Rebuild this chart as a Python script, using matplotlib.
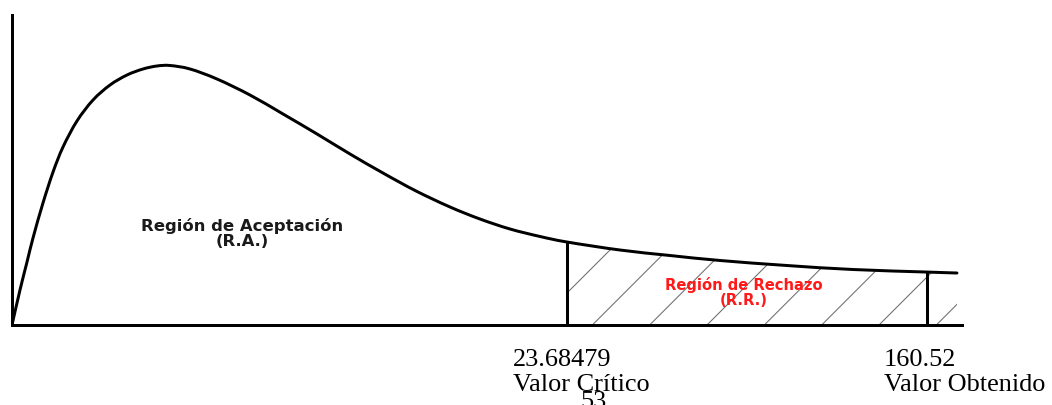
import matplotlib
matplotlib.use('Agg')

import numpy as np
import matplotlib.pyplot as plt
from matplotlib.path import Path
from matplotlib.patches import PathPatch

# Curva de la distribucion (escala 0-100 en ambos ejes)
curva_x = [0.0, 0.84, 1.58, 2.21, 3.26, 4.32, 5.37, 6.84, 8.53, 10.32, 12.11,
           13.79, 15.26, 16.63, 18.74, 21.58, 25.05, 28.53, 32.11, 35.58,
           39.05, 42.53, 46.11, 49.26, 52.42, 55.58, 58.42, 64.00, 69.26,
           74.53, 81.58, 88.53, 96.11, 99.47]
curva_y = [0.0, 11.29, 20.32, 28.06, 39.35, 49.35, 57.42, 65.81, 72.58, 77.42,
           80.65, 82.58, 83.55, 83.71, 82.58, 79.35, 74.19, 68.06, 61.61,
           55.16, 49.03, 43.23, 38.06, 34.19, 30.97, 28.55, 26.77, 24.19,
           22.42, 20.81, 19.19, 17.90, 17.10, 16.77]

# Posiciones de los valores en el eje
x_critico = 58.42
x_obtenido = 96.3
valor_critico = "23.68479"
valor_obtenido = "160.52"

DPI = 172
fig = plt.figure(figsize=(1052 / DPI, 405 / DPI), dpi=DPI)
ax = fig.add_axes([12 / 1052, 80 / 405, 950 / 1052, 310 / 405])
ax.set_xlim(0, 100)
ax.set_ylim(0, 100)

cx = np.array(curva_x)
cy = np.array(curva_y)
pts = np.column_stack([cx, cy])

# Region de rechazo rayada
plt.rcParams['hatch.linewidth'] = 0.45
ax.fill_between(cx, 0, cy, where=cx >= x_critico, facecolor='none',
                edgecolor='#707070', linewidth=0, hatch='/')

# Curva suave (Catmull-Rom -> Bezier cubica) por los puntos leidos
verts = [pts[0]]
codes = [Path.MOVETO]
n = len(pts)
for i in range(n - 1):
    p0 = pts[max(i - 1, 0)]
    p1 = pts[i]
    p2 = pts[i + 1]
    p3 = pts[min(i + 2, n - 1)]
    verts += [p1 + (p2 - p0) / 6, p2 - (p3 - p1) / 6, p2]
    codes += [Path.CURVE4] * 3
ax.add_patch(PathPatch(Path(verts, codes), facecolor='none', edgecolor='black',
                       lw=1.25, capstyle='round', joinstyle='round', zorder=3))

# Lineas verticales
for xv in [x_critico, x_obtenido]:
    ax.vlines(xv, 0, np.interp(xv, cx, cy), color='black', lw=1.25, zorder=3)

# Ejes
for s in ['top', 'right']:
    ax.spines[s].set_visible(False)
for s in ['left', 'bottom']:
    ax.spines[s].set_linewidth(1.25)
ax.set_xticks([])
ax.set_yticks([])
ax.patch.set_alpha(0)

# Textos de las regiones
ax.text(24.2, 29.4, 'Región de Aceptación\n(R.A.)', ha='center', va='center',
        fontsize=6.9, fontweight='bold', color='#1a1a1a', linespacing=1.0,
        family='DejaVu Sans')
ax.text(77.0, 10.5, 'Región de Rechazo\n(R.R.)', ha='center', va='center',
        fontsize=6.2, fontweight='bold', color='#ff1a1a', linespacing=1.0,
        family='DejaVu Sans')

# Valores en el eje
ax.text(x_critico - 5.7, -21.3, valor_critico + '\nValor Crítico', ha='left',
        va='baseline', fontsize=11, family='Liberation Serif', linespacing=1.15)
ax.text(x_obtenido - 4.5, -21.3, valor_obtenido + '\nValor Obtenido', ha='left',
        va='baseline', fontsize=11, family='Liberation Serif', linespacing=1.15)

# numero de pagina cortado
ax.text(59.8, -26.8, '53', ha='left', va='baseline', fontsize=11,
        family='Liberation Serif')

plt.savefig('out.png', dpi=DPI)
